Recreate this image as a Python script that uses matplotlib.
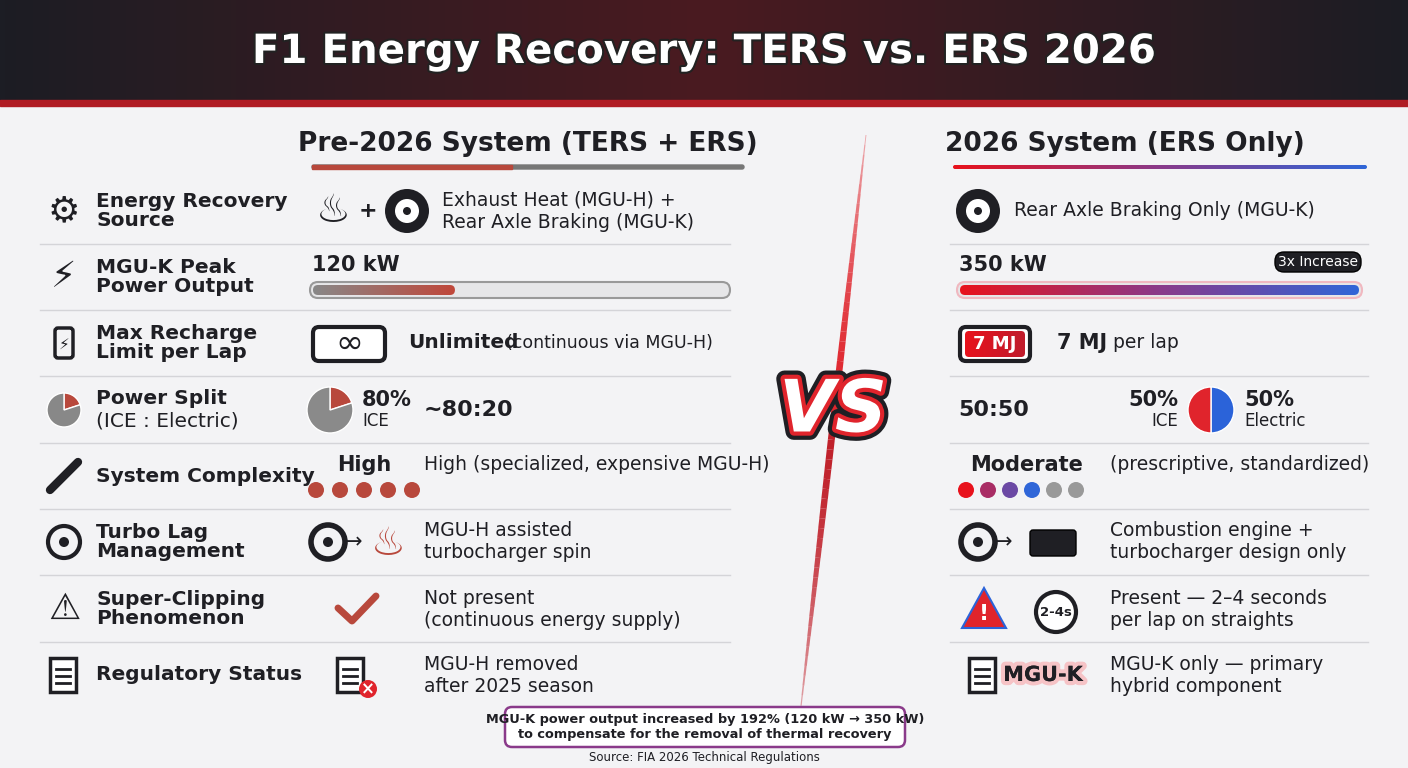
import numpy as np
import matplotlib.pyplot as plt
from matplotlib.patches import FancyBboxPatch, Rectangle, Wedge, Circle, Polygon
from matplotlib.colors import LinearSegmentedColormap
import matplotlib.patheffects as pe

plt.rcParams['font.family'] = ['DejaVu Sans']

title = "F1 Energy Recovery: TERS vs. ERS 2026"
left_head = "Pre-2026 System (TERS + ERS)"
right_head = "2026 System (ERS Only)"
row_labels = ["Energy Recovery\nSource", "MGU-K Peak\nPower Output", "Max Recharge\nLimit per Lap",
              "Power Split\n(ICE : Electric)", "System Complexity", "Turbo Lag\nManagement",
              "Super-Clipping\nPhenomenon", "Regulatory Status"]
pre_text = ["Exhaust Heat (MGU-H) +\nRear Axle Braking (MGU-K)", None, None, "~80:20",
            "High (specialized, expensive MGU-H)", "MGU-H assisted\nturbocharger spin",
            "Not present\n(continuous energy supply)", "MGU-H removed\nafter 2025 season"]
new_text = ["Rear Axle Braking Only (MGU-K)", None, None, "50:50",
            "(prescriptive, standardized)", "Combustion engine +\nturbocharger design only",
            "Present — 2–4 seconds\nper lap on straights", "MGU-K only — primary\nhybrid component"]
power_kw = [120, 350]
power_max = 350
ice_share = [80, 50]
complexity_on = [5, 4]
complexity_total = [5, 6]
recharge_mj = 7
note = "MGU-K power output increased by 192% (120 kW → 350 kW)\nto compensate for the removal of thermal recovery"
source = "Source: FIA 2026 Technical Regulations"

RED = "#e0242c"; BLUE = "#2b63d9"; DARK = "#1f1f24"; BROWN = "#b8483c"
rb = LinearSegmentedColormap.from_list("rb", ["#e8121c", "#8a3a8a", "#2f66d8"])
gr = LinearSegmentedColormap.from_list("gr", ["#888888", "#c0473a"])

fig = plt.figure(figsize=(14.08, 7.68), dpi=100)
ax = fig.add_axes([0, 0, 1, 1])
ax.set_facecolor("#f3f3f5")
fig.patch.set_facecolor("#f3f3f5")

def hgrad(x0, x1, y0, y1, cmap, clip=None, z=2):
    im = ax.imshow(np.linspace(0, 1, 256)[None, :], cmap=cmap, aspect='auto',
                   extent=[x0, x1, y1, y0], zorder=z)
    if clip is not None:
        im.set_clip_path(clip)
    return im

def pie(cx, cy, r, share, c_ice, c_el):
    # y axis is inverted: data angle 270 is screen top, angles run clockwise on screen
    cut = 270 + 360 * (100 - share) / 100
    ax.add_patch(Wedge((cx, cy), r, 270, cut, fc=c_el, ec='white', lw=1))
    ax.add_patch(Wedge((cx, cy), r, cut, 270 + 360, fc=c_ice, ec='white', lw=1))

def doc(x0, y):
    ax.add_patch(Rectangle((x0, y - 17), 26, 34, fc='white', ec=DARK, lw=2.5))
    for k in range(3):
        ax.plot([x0 + 6, x0 + 20], [y - 6 + 7 * k] * 2, color=DARK, lw=2)

# header band
hdr = LinearSegmentedColormap.from_list("h", ["#1c1d24", "#4a1a20", "#1c1d24"])
hgrad(0, 1408, 0, 106, hdr, z=1)
ax.add_patch(Rectangle((0, 100), 1408, 6, color="#b01c24", zorder=2))
ax.text(704, 52, title, color="white", fontsize=29, fontweight='heavy', ha='center', va='center', zorder=3,
        path_effects=[pe.withStroke(linewidth=3, foreground="#222")])

# column headings
ax.text(528, 144, left_head, fontsize=19, fontweight='bold', ha='center', va='center', color=DARK)
ax.add_patch(FancyBboxPatch((312, 165), 432, 4, boxstyle="round,pad=0,rounding_size=2",
                            color="#777", zorder=2))
ax.add_patch(Rectangle((312, 165), 200, 4, color=BROWN, zorder=3))
ax.text(1125, 144, right_head, fontsize=19, fontweight='bold', ha='center', va='center', color=DARK)
p = FancyBboxPatch((953, 165), 414, 4, boxstyle="round,pad=0,rounding_size=2", fc='none', ec='none')
ax.add_patch(p)
hgrad(953, 1367, 165, 169, rb, clip=p)

rows_y = [211, 277, 343, 410, 476, 542, 609, 675]
for i, (lab, y) in enumerate(zip(row_labels, rows_y)):
    if i == 3:
        first, second = lab.split("\n")
        ax.text(96, y - 11, first, fontsize=14.5, fontweight='bold', ha='left', va='center', color=DARK)
        ax.text(96, y + 11, second, fontsize=14.5, ha='left', va='center', color=DARK)
    else:
        ax.text(96, y, lab, fontsize=14.5, fontweight='bold', ha='left', va='center',
                color=DARK, linespacing=1.05)
    if i < 7:
        ax.plot([40, 730], [y + 33, y + 33], color="#d4d4d8", lw=1)
        ax.plot([950, 1368], [y + 33, y + 33], color="#d4d4d8", lw=1)

# row icons (simplified)
ax.text(64, 211, "⚙", fontsize=26, ha='center', va='center', color=DARK)
ax.text(64, 277, "⚡", fontsize=26, ha='center', va='center', color=DARK)
ax.text(64, 609, "⚠", fontsize=26, ha='center', va='center', color=DARK)
ax.add_patch(FancyBboxPatch((55, 328), 18, 30, boxstyle="round,pad=0,rounding_size=3", fc='none', ec=DARK, lw=2.5))
ax.text(64, 344, "⚡", fontsize=11, ha='center', va='center', color=DARK)
pie(64, 410, 17, ice_share[0], "#888", BROWN)
ax.plot([50, 78], [490, 462], color=DARK, lw=6, solid_capstyle='round')
ax.add_patch(Circle((64, 542), 16, fc='none', ec=DARK, lw=3))
ax.add_patch(Circle((64, 542), 5, fc=DARK))
doc(50, 675)

# row 1 pre / new
ax.text(333, 211, "♨", fontsize=28, ha='center', va='center', color=DARK)
ax.text(368, 211, "+", fontsize=16, fontweight='bold', ha='center', va='center', color=DARK)
for cx in (407, 978):
    ax.add_patch(Circle((cx, 211), 22, fc=DARK))
    ax.add_patch(Circle((cx, 211), 12, fc='white'))
    ax.add_patch(Circle((cx, 211), 4, fc=DARK))
ax.text(442, 211, pre_text[0], fontsize=13.5, ha='left', va='center', color=DARK)
ax.text(1014, 211, new_text[0], fontsize=13.5, ha='left', va='center', color=DARK)

# row 2 power bars
for k, (x0, x1) in enumerate([(310, 730), (957, 1362)]):
    ax.text(x0 + 2, 265, f"{power_kw[k]} kW", fontsize=15, fontweight='bold', ha='left', va='center', color=DARK)
    frac = power_kw[k] / power_max
    outer = FancyBboxPatch((x0, 282), x1 - x0, 16, boxstyle="round,pad=0,rounding_size=8",
                           fc='#e6e6e8', ec='#999' if k == 0 else '#f0b8c0', lw=1.5, zorder=2)
    ax.add_patch(outer)
    fill = FancyBboxPatch((x0 + 3, 285), (x1 - x0 - 6) * frac, 10, boxstyle="round,pad=0,rounding_size=5",
                          fc='none', ec='none')
    ax.add_patch(fill)
    hgrad(x0 + 3, x0 + 3 + (x1 - x0 - 6) * frac, 285, 295, gr if k == 0 else rb, clip=fill, z=3)
ax.add_patch(FancyBboxPatch((1275, 252), 86, 20, boxstyle="round,pad=0,rounding_size=9", fc=DARK, zorder=4))
ax.text(1318, 262, "3x Increase", fontsize=10, color='white', ha='center', va='center', zorder=5)

# row 3 recharge
ax.add_patch(FancyBboxPatch((313, 327), 72, 34, boxstyle="round,pad=0,rounding_size=6", fc='white', ec=DARK, lw=3))
ax.text(349, 343, "∞", fontsize=24, ha='center', va='center', color=DARK)
ax.text(408, 343, "Unlimited", fontsize=14.5, fontweight='bold', ha='left', va='center', color=DARK)
ax.text(506, 343, "(continuous via MGU-H)", fontsize=12.5, ha='left', va='center', color=DARK)
ax.add_patch(FancyBboxPatch((960, 327), 70, 34, boxstyle="round,pad=0,rounding_size=6", fc='white', ec=DARK, lw=3))
bb = FancyBboxPatch((965, 331), 60, 26, boxstyle="round,pad=0,rounding_size=4", fc='none', ec='none')
ax.add_patch(bb)
hgrad(965, 1025, 331, 357, LinearSegmentedColormap.from_list("r", ["#e8121c", "#c01c2c"]), clip=bb, z=3)
ax.text(995, 344, f"{recharge_mj} MJ", fontsize=13, fontweight='bold', color='white', ha='center', va='center', zorder=4)
ax.text(1057, 343, f"{recharge_mj} MJ", fontsize=15, fontweight='bold', ha='left', va='center', color=DARK)
ax.text(1113, 343, "per lap", fontsize=13.5, ha='left', va='center', color=DARK)

# row 4 power split
pie(330, 410, 23, ice_share[0], "#8a8a8a", BROWN)
ax.text(362, 400, f"{ice_share[0]}%", fontsize=15, fontweight='bold', ha='left', va='center', color=DARK)
ax.text(362, 421, "ICE", fontsize=12, ha='left', va='center', color=DARK)
ax.text(424, 410, pre_text[3], fontsize=16, fontweight='bold', ha='left', va='center', color=DARK)
ax.text(958, 410, new_text[3], fontsize=16, fontweight='bold', ha='left', va='center', color=DARK)
pie(1211, 410, 23, ice_share[1], RED, BLUE)
ax.text(1178, 400, f"{ice_share[1]}%", fontsize=15, fontweight='bold', ha='right', va='center', color=DARK)
ax.text(1178, 421, "ICE", fontsize=12, ha='right', va='center', color=DARK)
ax.text(1244, 400, f"{100 - ice_share[1]}%", fontsize=15, fontweight='bold', ha='left', va='center', color=DARK)
ax.text(1244, 421, "Electric", fontsize=12, ha='left', va='center', color=DARK)

# row 5 complexity
ax.text(364, 465, "High", fontsize=15, fontweight='bold', ha='center', va='center', color=DARK)
ax.text(424, 465, pre_text[4], fontsize=13.5, ha='left', va='center', color=DARK)
for j in range(complexity_total[0]):
    ax.add_patch(Circle((316 + 24 * j, 490), 8, fc=BROWN))
ax.text(1027, 465, "Moderate", fontsize=15, fontweight='bold', ha='center', va='center', color=DARK)
ax.text(1110, 465, new_text[4], fontsize=13.5, ha='left', va='center', color=DARK)
for j in range(complexity_total[1]):
    c = rb(j / max(complexity_on[1] - 1, 1)) if j < complexity_on[1] else "#999"
    ax.add_patch(Circle((966 + 22 * j, 490), 8, fc=c))

# row 6 turbo
for cx in (328, 978):
    ax.add_patch(Circle((cx, 542), 17, fc='none', ec=DARK, lw=4))
    ax.add_patch(Circle((cx, 542), 5, fc=DARK))
    ax.text(cx + 26, 542, "→", fontsize=15, ha='center', va='center', color=DARK)
ax.text(388, 544, "♨", fontsize=28, ha='center', va='center', color=BROWN)
ax.add_patch(FancyBboxPatch((1030, 530), 46, 26, boxstyle="round,pad=0,rounding_size=3", fc=DARK))
ax.text(424, 542, pre_text[5], fontsize=13.5, ha='left', va='center', color=DARK)
ax.text(1110, 542, new_text[5], fontsize=13.5, ha='left', va='center', color=DARK)

# row 7 super clipping
ax.plot([338, 352, 376], [608, 621, 596], color=BROWN, lw=5, solid_capstyle='round')
ax.text(424, 609, pre_text[6], fontsize=13.5, ha='left', va='center', color=DARK)
tri = Polygon([[984, 588], [1006, 628], [962, 628]], closed=True, fc=RED, ec=BLUE, lw=1.5)
ax.add_patch(tri)
ax.text(984, 614, "!", fontsize=16, fontweight='bold', color='white', ha='center', va='center')
ax.add_patch(Circle((1056, 612), 20, fc='white', ec=DARK, lw=3))
ax.text(1056, 612, "2-4s", fontsize=9.5, fontweight='bold', ha='center', va='center', color=DARK)
ax.text(1110, 609, new_text[6], fontsize=13.5, ha='left', va='center', color=DARK)

# row 8 regulatory
doc(337, 675)
ax.add_patch(Circle((368, 689), 9, fc=RED))
ax.text(368, 689, "×", fontsize=12, color='white', ha='center', va='center', fontweight='bold')
ax.text(424, 675, pre_text[7], fontsize=13.5, ha='left', va='center', color=DARK)
doc(969, 675)
ax.text(1043, 675, "MGU-K", fontsize=15, fontweight='bold', ha='center', va='center', color=DARK,
        path_effects=[pe.withStroke(linewidth=6, foreground="#f6c3c6"), pe.Normal()])
ax.text(1110, 675, new_text[7], fontsize=13.5, ha='left', va='center', color=DARK)

# diagonal slash and VS
sl = np.linspace(0, 1, 60)
for a, b in zip(sl[:-1], sl[1:]):
    m = (a + b) / 2
    ax.plot([866 - 66 * a, 866 - 66 * b], [135 + 580 * a, 135 + 580 * b],
            color=RED if m < 0.5 else "#c0202a", alpha=0.35 + 0.65 * np.sin(np.pi * m),
            lw=4.5 * np.sin(np.pi * m) + 0.5, solid_capstyle='butt', zorder=5)
ax.text(833, 412, "VS", fontsize=52, fontweight='heavy', fontstyle='italic', color='white', ha='center',
        va='center', zorder=6,
        path_effects=[pe.Stroke(linewidth=12, foreground=DARK), pe.Stroke(linewidth=6, foreground=RED),
                      pe.Normal()])

# bottom note
ax.add_patch(FancyBboxPatch((505, 707), 400, 40, boxstyle="round,pad=0,rounding_size=7", fc='white',
                            ec="#8a3a8a", lw=1.8, zorder=5))
ax.text(705, 727, note, fontsize=9.3, fontweight='bold', ha='center', va='center', color=DARK, zorder=6,
        linespacing=1.2)
ax.text(704, 758, source, fontsize=8.5, ha='center', va='center', color=DARK)

ax.set_xlim(0, 1408)
ax.set_ylim(768, 0)
ax.axis('off')
fig.savefig("out.png", dpi=100)
